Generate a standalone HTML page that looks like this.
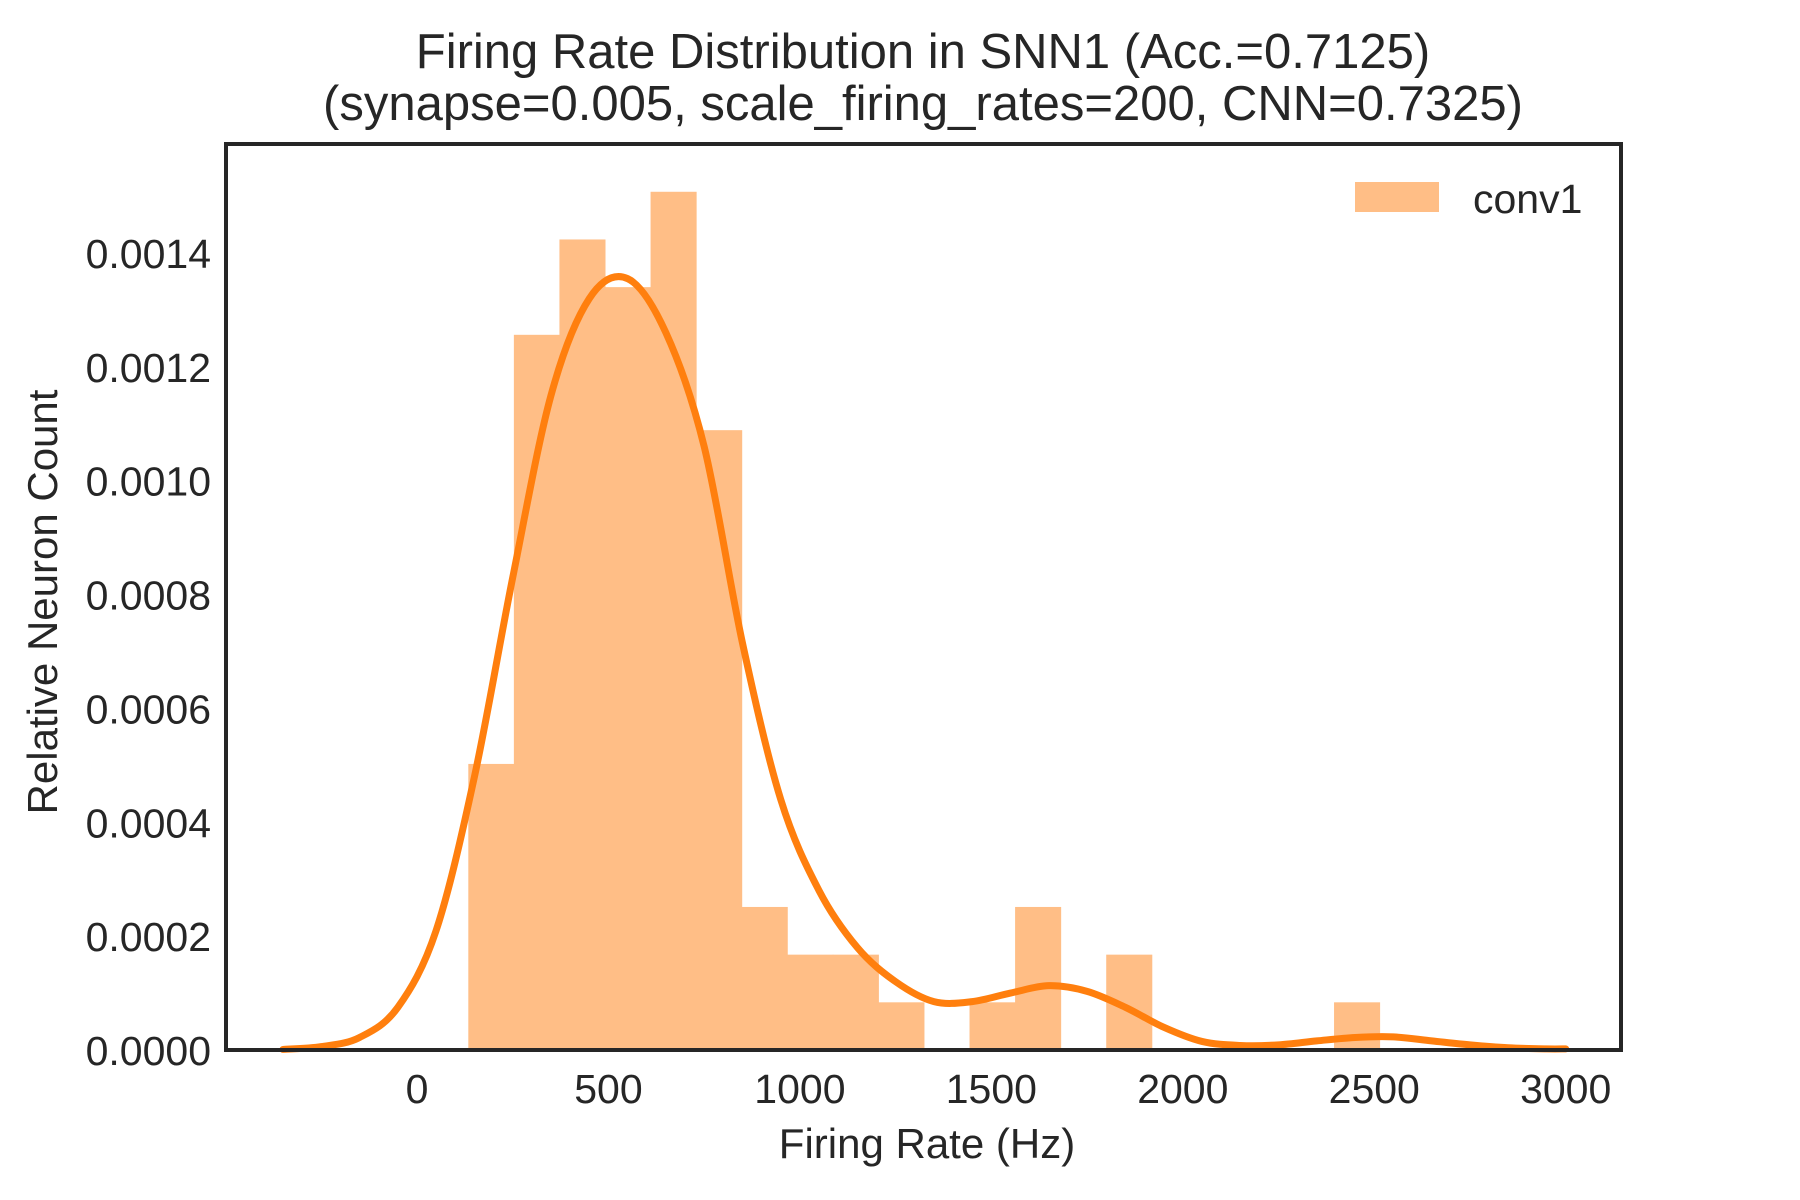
<!DOCTYPE html>
<html><head><meta charset="utf-8"><style>
html,body{margin:0;padding:0;background:#fff;}
svg{display:block;font-family:"Liberation Sans",Arial,sans-serif;}
</style></head><body>
<svg id="chart" width="1800" height="1200" viewBox="0 0 1800 1200" xmlns="http://www.w3.org/2000/svg">
<text x="923" y="68" text-anchor="middle" font-size="49" fill="#262626">Firing Rate Distribution in SNN1 (Acc.=0.7125)</text>
<text x="923" y="120" text-anchor="middle" font-size="49" fill="#262626">(synapse=0.005, scale_firing_rates=200, CNN=0.7325)</text>
<g id="bars"></g>
<path id="kde" fill="none" stroke="#ff7f0e" stroke-width="7" stroke-linejoin="round" stroke-linecap="round"/>
<rect x="226" y="144" width="1395" height="906" fill="none" stroke="#262626" stroke-width="4"/>
<g id="xticks"></g>
<g id="yticks"></g>
<text x="927" y="1158" text-anchor="middle" font-size="42" fill="#262626">Firing Rate (Hz)</text>
<text transform="translate(57,602) rotate(-90)" text-anchor="middle" font-size="42" fill="#262626">Relative Neuron Count</text>
<g>
<rect x="1355" y="182" width="84" height="30" fill="#ffbe86"/>
<text x="1473" y="213" font-size="41" fill="#262626">conv1</text>
</g>
</svg>
<script>
const binStart = 134;
const binWidth = 119.0;
const binCounts = [6,15,17,16,18,13,3,2,2,1,0,1,3,0,2,0,0,0,0,1];
const totalCount = 100;
const kdeX = [-350,-250,-150,-50,50,150,250,350,450,550,650,750,850,950,1050,1150,1250,1350,1450,1550,1650,1750,1850,1950,2050,2150,2250,2350,2450,2550,2650,2750,2850,2950,3000];
const kdeY = [0.000001,0.000006,0.000022,0.000075,0.00021,0.00048,0.00083,0.00115,0.00132,0.001355,0.00126,0.00106,0.000715,0.00044,0.00028,0.00018,0.00012,0.000085,0.000085,0.0001,0.000113,0.000103,0.000075,0.00004,0.000015,0.000008,0.000009,0.000016,0.000022,0.000023,0.000016,0.000009,0.000004,0.000002,0.000002];
const xTicks = [0,500,1000,1500,2000,2500,3000];
const yTicks = [0,0.0002,0.0004,0.0006,0.0008,0.0010,0.0012,0.0014];
const yTickLabels = ["0.0000","0.0002","0.0004","0.0006","0.0008","0.0010","0.0012","0.0014"];

const NS = "http://www.w3.org/2000/svg";
function xs(v){ return 417 + v * (1565.7 - 417) / 3000; }
function ys(v){ return 1050 - v * (797 / 0.0014); }

const bars = document.getElementById('bars');
binCounts.forEach((c, i) => {
  if (!c) return;
  const d = c / (totalCount * 119.4);
  const x0 = xs(binStart + i * binWidth), x1 = xs(binStart + (i + 1) * binWidth);
  const r = document.createElementNS(NS, 'rect');
  
  
  r.setAttribute('x', x0); r.setAttribute('width', x1 - x0 + 0.5);
  r.setAttribute('y', ys(d)); r.setAttribute('height', 1050 - ys(d));
  r.setAttribute('fill', '#ffbe86');
  bars.appendChild(r);
});

const pts = kdeX.map((x, i) => [xs(x), ys(kdeY[i])]);
let d = 'M' + pts[0][0] + ',' + pts[0][1];
for (let i = 0; i < pts.length - 1; i++) {
  const p0 = pts[Math.max(i - 1, 0)], p1 = pts[i], p2 = pts[i + 1], p3 = pts[Math.min(i + 2, pts.length - 1)];
  const c1 = [p1[0] + (p2[0] - p0[0]) / 6, p1[1] + (p2[1] - p0[1]) / 6];
  const c2 = [p2[0] - (p3[0] - p1[0]) / 6, p2[1] - (p3[1] - p1[1]) / 6];
  d += ' C' + c1 + ' ' + c2 + ' ' + p2;
}
document.getElementById('kde').setAttribute('d', d);

const xt = document.getElementById('xticks');
xTicks.forEach(v => {
  const t = document.createElementNS(NS, 'text');
  
  
  t.setAttribute('x', xs(v)); t.setAttribute('y', 1103);
  t.setAttribute('text-anchor', 'middle'); t.setAttribute('font-size', '41'); t.setAttribute('fill', '#262626');
  t.textContent = v;
  xt.appendChild(t);
});
const yt = document.getElementById('yticks');
yTicks.forEach((v, i) => {
  const t = document.createElementNS(NS, 'text');
  
  
  t.setAttribute('x', 211); t.setAttribute('y', ys(v) + 15);
  t.setAttribute('text-anchor', 'end'); t.setAttribute('font-size', '41'); t.setAttribute('fill', '#262626');
  t.textContent = yTickLabels[i];
  yt.appendChild(t);
});
</script>
</body></html>
